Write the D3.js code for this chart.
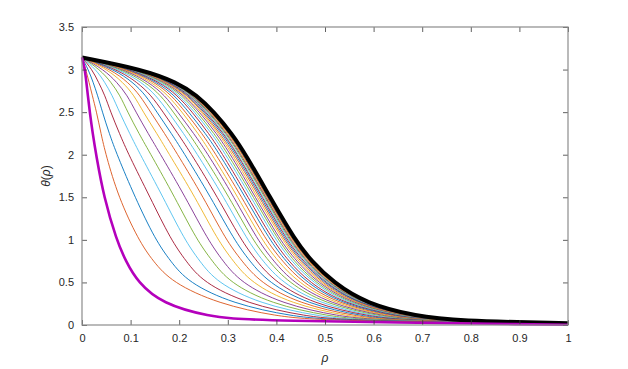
<!DOCTYPE html>
<html>
<head>
<meta charset="utf-8">
<script src="https://cdn.jsdelivr.net/npm/d3@7"></script>
<style>
  html, body { margin: 0; padding: 0; background: #fff; }
  svg { display: block; font-family: "Liberation Sans", Arial, sans-serif; }
</style>
</head>
<body>
<div id="chart"></div>
<script>
const thetaLevels = [3.0, 2.85, 2.7, 2.5, 2.25, 2.0, 1.5, 1.0, 0.75, 0.5, 0.25, 0.1, 0.05];
const thetaStart = Math.PI;          // all profiles start at theta = pi, rho = 0
const thetaEndThin = 0.01;           // value at rho = 1
const thetaEndBlack = 0.02;
const thetaEndMagenta = 0.003;

// thick black profile (outermost)
const blackRho = [0.125, 0.195, 0.236, 0.272, 0.308, 0.337, 0.387, 0.438, 0.472, 0.517, 0.585, 0.690, 0.770];
// thick magenta profile (innermost)
const magentaRho = [0.006, 0.009, 0.012, 0.016, 0.022, 0.029, 0.045, 0.071, 0.090, 0.115, 0.165, 0.260, 0.340];

// thin snapshots, plot order 1..30 (1 = next to black, 30 = leftmost)
const snapshotRho = [
  [0.123, 0.191, 0.232, 0.267, 0.303, 0.332, 0.382, 0.433, 0.467, 0.512, 0.580, 0.686, 0.766],
  [0.122, 0.190, 0.230, 0.266, 0.302, 0.331, 0.381, 0.432, 0.466, 0.510, 0.579, 0.684, 0.765],
  [0.121, 0.189, 0.229, 0.264, 0.300, 0.329, 0.379, 0.430, 0.464, 0.509, 0.577, 0.683, 0.763],
  [0.120, 0.187, 0.227, 0.262, 0.298, 0.327, 0.378, 0.428, 0.462, 0.506, 0.575, 0.681, 0.762],
  [0.119, 0.186, 0.225, 0.260, 0.296, 0.325, 0.376, 0.426, 0.460, 0.504, 0.573, 0.679, 0.760],
  [0.118, 0.184, 0.223, 0.258, 0.293, 0.322, 0.373, 0.424, 0.458, 0.502, 0.571, 0.677, 0.758],
  [0.117, 0.182, 0.221, 0.255, 0.291, 0.320, 0.371, 0.421, 0.455, 0.499, 0.568, 0.675, 0.756],
  [0.115, 0.180, 0.218, 0.252, 0.288, 0.317, 0.368, 0.418, 0.452, 0.496, 0.566, 0.672, 0.754],
  [0.114, 0.177, 0.216, 0.249, 0.284, 0.314, 0.365, 0.415, 0.449, 0.492, 0.562, 0.669, 0.751],
  [0.112, 0.175, 0.212, 0.246, 0.281, 0.310, 0.361, 0.412, 0.445, 0.488, 0.559, 0.666, 0.748],
  [0.110, 0.172, 0.209, 0.242, 0.277, 0.306, 0.357, 0.407, 0.441, 0.484, 0.555, 0.663, 0.744],
  [0.108, 0.168, 0.205, 0.237, 0.272, 0.301, 0.353, 0.403, 0.436, 0.479, 0.550, 0.658, 0.741],
  [0.105, 0.164, 0.200, 0.232, 0.267, 0.296, 0.348, 0.398, 0.431, 0.474, 0.545, 0.654, 0.736],
  [0.102, 0.160, 0.196, 0.227, 0.261, 0.290, 0.342, 0.392, 0.425, 0.467, 0.539, 0.649, 0.731],
  [0.099, 0.155, 0.190, 0.220, 0.254, 0.284, 0.336, 0.386, 0.419, 0.461, 0.533, 0.643, 0.726],
  [0.096, 0.150, 0.184, 0.213, 0.247, 0.276, 0.329, 0.378, 0.412, 0.453, 0.526, 0.636, 0.720],
  [0.092, 0.144, 0.177, 0.206, 0.239, 0.268, 0.321, 0.370, 0.403, 0.444, 0.518, 0.629, 0.713],
  [0.088, 0.138, 0.170, 0.197, 0.230, 0.260, 0.313, 0.361, 0.394, 0.434, 0.509, 0.621, 0.706],
  [0.083, 0.131, 0.162, 0.188, 0.220, 0.249, 0.303, 0.351, 0.384, 0.424, 0.499, 0.612, 0.697],
  [0.078, 0.123, 0.152, 0.178, 0.209, 0.238, 0.292, 0.340, 0.372, 0.411, 0.488, 0.601, 0.687],
  [0.073, 0.114, 0.142, 0.167, 0.197, 0.226, 0.279, 0.327, 0.359, 0.398, 0.475, 0.590, 0.677],
  [0.067, 0.105, 0.131, 0.154, 0.184, 0.212, 0.265, 0.313, 0.345, 0.383, 0.462, 0.577, 0.665],
  [0.060, 0.095, 0.119, 0.141, 0.170, 0.197, 0.250, 0.296, 0.329, 0.366, 0.446, 0.563, 0.651],
  [0.053, 0.084, 0.107, 0.126, 0.154, 0.180, 0.233, 0.279, 0.311, 0.347, 0.429, 0.547, 0.636],
  [0.045, 0.072, 0.093, 0.111, 0.136, 0.162, 0.213, 0.259, 0.290, 0.326, 0.410, 0.528, 0.620],
  [0.037, 0.060, 0.078, 0.094, 0.117, 0.142, 0.191, 0.236, 0.268, 0.303, 0.388, 0.508, 0.601],
  [0.029, 0.047, 0.062, 0.077, 0.098, 0.120, 0.167, 0.211, 0.242, 0.277, 0.365, 0.486, 0.580],
  [0.021, 0.034, 0.047, 0.059, 0.077, 0.096, 0.140, 0.183, 0.214, 0.249, 0.339, 0.460, 0.556],
  [0.013, 0.023, 0.032, 0.042, 0.056, 0.072, 0.109, 0.151, 0.182, 0.218, 0.310, 0.432, 0.530],
  [0.008, 0.0145, 0.021, 0.030, 0.039, 0.049, 0.075, 0.116, 0.146, 0.185, 0.280, 0.400, 0.500]
];

const colorOrder = ['#0072BD', '#D95319', '#EDB120', '#7E2F8E', '#77AC30', '#4DBEEE', '#A2142F'];
const xTicks = [0, 0.1, 0.2, 0.3, 0.4, 0.5, 0.6, 0.7, 0.8, 0.9, 1];
const yTicks = [0, 0.5, 1, 1.5, 2, 2.5, 3, 3.5];

const width = 628, height = 369;
const margin = { left: 82, right: 568, top: 27, bottom: 325 };

const svg = d3.select('#chart').append('svg')
    .attr('width', width)
    .attr('height', height);

const x = d3.scaleLinear().domain([0, 1]).range([margin.left, margin.right]);
const y = d3.scaleLinear().domain([0, 3.5]).range([margin.bottom, margin.top]);

// turn a row of crossings into (rho, theta) points
function profile(rhos, thetaEnd) {
    const pts = [[0, thetaStart]];
    rhos.forEach((r, i) => pts.push([r, thetaLevels[i]]));
    pts.push([1, thetaEnd]);
    return pts;
}

const line = d3.line()
    .x(d => x(d[0]))
    .y(d => y(d[1]))
    .curve(d3.curveBasis);

const plot = svg.append('g');

snapshotRho.forEach((rhos, i) => {
    plot.append('path')
        .attr('d', line(profile(rhos, thetaEndThin)))
        .attr('fill', 'none')
        .attr('stroke', colorOrder[i % colorOrder.length])
        .attr('stroke-width', 0.9);
});

plot.append('path')
    .attr('d', line(profile(blackRho, thetaEndBlack)))
    .attr('fill', 'none')
    .attr('stroke', '#000')
    .attr('stroke-width', 4)
    .attr('stroke-linejoin', 'round');

plot.append('path')
    .attr('d', line(profile(magentaRho, thetaEndMagenta)))
    .attr('fill', 'none')
    .attr('stroke', '#b400bc')
    .attr('stroke-width', 2.6);

// axes, ticks pointing inward like the original
const axisColor = '#262626';

const gx = svg.append('g')
    .attr('transform', `translate(0,${margin.bottom})`)
    .call(d3.axisBottom(x).tickValues(xTicks).tickSize(-5).tickPadding(9).tickFormat(d3.format('~g')));
const gxTop = svg.append('g')
    .attr('transform', `translate(0,${margin.top})`)
    .call(d3.axisTop(x).tickValues(xTicks).tickSize(-5).tickFormat(''));
const gy = svg.append('g')
    .attr('transform', `translate(${margin.left},0)`)
    .call(d3.axisLeft(y).tickValues(yTicks).tickSize(-5).tickPadding(8).tickFormat(d3.format('~g')));
const gyRight = svg.append('g')
    .attr('transform', `translate(${margin.right},0)`)
    .call(d3.axisRight(y).tickValues(yTicks).tickSize(-5).tickFormat(''));

[gx, gxTop, gy, gyRight].forEach(g => {
    g.select('.domain').remove();
    g.selectAll('line').attr('stroke', '#3a3a3a').attr('stroke-width', 0.8);
    g.selectAll('text')
        .style('font-size', '11px')
        .style('font-family', '"Liberation Sans", Arial, sans-serif')
        .attr('fill', axisColor);
});

svg.append('rect')
    .attr('x', margin.left)
    .attr('y', margin.top)
    .attr('width', margin.right - margin.left)
    .attr('height', margin.bottom - margin.top)
    .attr('fill', 'none')
    .attr('stroke', '#8c8c8c')
    .attr('stroke-width', 1.2);

// axis labels
svg.append('text')
    .attr('x', (margin.left + margin.right) / 2)
    .attr('y', 362)
    .attr('text-anchor', 'middle')
    .style('font-size', '12px')
    .style('font-style', 'italic')
    .attr('fill', axisColor)
    .text('ρ');

const ylab = svg.append('text')
    .attr('transform', `translate(50,${(margin.top + margin.bottom) / 2}) rotate(-90)`)
    .attr('text-anchor', 'middle')
    .style('font-size', '12px')
    .attr('fill', axisColor);
ylab.append('tspan').style('font-style', 'italic').text('θ');
ylab.append('tspan').text('(');
ylab.append('tspan').style('font-style', 'italic').text('ρ');
ylab.append('tspan').text(')');
</script>
</body>
</html>
